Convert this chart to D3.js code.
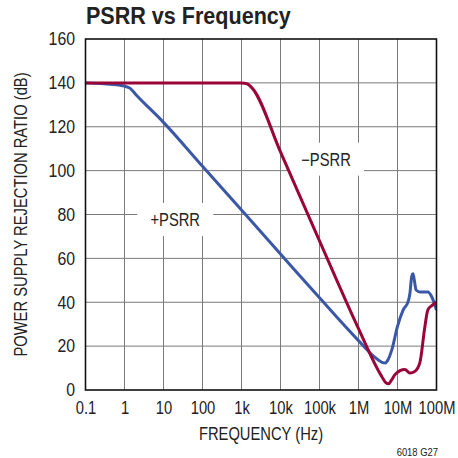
<!DOCTYPE html>
<html>
<head>
<meta charset="utf-8">
<script src="https://cdn.jsdelivr.net/npm/d3@7"></script>
<style>
  html, body { margin: 0; padding: 0; background: #fff; }
  svg { display: block; }
  text { font-family: "Liberation Sans", Arial, sans-serif; fill: #222; }
</style>
</head>
<body>
<script>
// Frequency decades shown on the x axis (Hz) and their labels
const xTickValues = [0.1, 1, 10, 100, 1e3, 1e4, 1e5, 1e6, 1e7, 1e8];
const xTickLabels = ["0.1", "1", "10", "100", "1k", "10k", "100k", "1M", "10M", "100M"];
const yTickValues = [0, 20, 40, 60, 80, 100, 120, 140, 160];

// +PSRR: [frequency Hz, dB]
const psrrPlus = [
  [0.1, 140], [0.3, 139.6], [0.7, 139], [1, 138.5], [1.4, 137.5], [2, 134.5],
  [10, 122], [100, 102], [1000, 82], [10000, 62], [100000, 42], [1e6, 22.5],
  [2.6e6, 15], [4e6, 12.6], [4.8e6, 12.3], [5.6e6, 13.5], [7.2e6, 18.5],
  [10e6, 29], [14e6, 36.5], [18.9e6, 40.5], [20.8e6, 44], [23e6, 51.5],
  [25e6, 53], [27e6, 50], [30e6, 45.6], [37.5e6, 44.7], [60e6, 44.7],
  [76e6, 42.4], [100e6, 36.5]
];

// −PSRR: [frequency Hz, dB]
const psrrMinus = [
  [0.1, 140], [1, 140], [10, 140], [100, 140], [1000, 140], [1400, 139.5],
  [1900, 137.5], [10000, 108.5], [100000, 68], [1e6, 28], [3.7e6, 7],
  [5.0e6, 3.4], [5.9e6, 2.8], [7e6, 4.5], [8.6e6, 7], [11.6e6, 8.8],
  [15.5e6, 9.4], [20.8e6, 7.7], [27.9e6, 8.5], [37.5e6, 12.5],
  [50e6, 28.5], [60e6, 36.5], [76e6, 38.5], [100e6, 40]
];

// Curve labels: [text, frequency Hz, dB]
const curveLabels = [
  ["+PSRR", 20, 77.5],
  ["\u2212PSRR", 147000, 105]
];

// Horizontal squeeze giving a condensed typeface look
const SQ = 0.82;

const W = 458, H = 458;
const margin = { left: 85.5, right: 458 - 436.5, top: 39, bottom: 458 - 390 };

const svg = d3.select("body").append("svg")
  .attr("width", W).attr("height", H);

const x = d3.scaleLog().domain([0.1, 1e8]).range([margin.left, W - margin.right]);
const y = d3.scaleLinear().domain([0, 160]).range([H - margin.bottom, margin.top]);

// Places a condensed text element at (px, py)
function narrowText(parent, px, py, str, size, anchor, sq) {
  return parent.append("text")
    .attr("transform", `translate(${px},${py}) scale(${sq || SQ},1)`)
    .attr("text-anchor", anchor || "middle")
    .attr("font-size", size)
    .text(str);
}

// Grid
const grid = svg.append("g").attr("stroke", "#7a7a7a").attr("stroke-width", 1);
grid.selectAll("line.v").data(xTickValues.slice(1, -1)).join("line")
  .attr("x1", d => x(d)).attr("x2", d => x(d))
  .attr("y1", y(0)).attr("y2", y(160));
grid.selectAll("line.h").data(yTickValues.slice(1, -1)).join("line")
  .attr("x1", x(0.1)).attr("x2", x(1e8))
  .attr("y1", d => y(d)).attr("y2", d => y(d));

// Curve labels with white boxes over the grid
const lab = svg.append("g");
curveLabels.forEach(([t, f, db]) => {
  const cx = x(f), cy = y(db);
  lab.append("rect")
    .attr("x", cx - 38).attr("y", cy - 17).attr("width", 76).attr("height", 33)
    .attr("fill", "#fff");
  narrowText(lab, cx, cy + 6.5, t, 18, "middle");
});

// Curves
svg.append("clipPath").attr("id", "plotclip").append("rect")
  .attr("x", x(0.1)).attr("y", y(160)).attr("width", x(1e8) - x(0.1)).attr("height", y(0) - y(160));

const line = d3.line().x(d => x(d[0])).y(d => y(d[1])).curve(d3.curveMonotoneX);
const curves = svg.append("g").attr("clip-path", "url(#plotclip)");
curves.append("path").datum(psrrPlus)
  .attr("d", line).attr("fill", "none").attr("stroke", "#3b58a8")
  .attr("stroke-width", 3).attr("stroke-linejoin", "round");
curves.append("path").datum(psrrMinus)
  .attr("d", line).attr("fill", "none").attr("stroke", "#9a0538")
  .attr("stroke-width", 3).attr("stroke-linejoin", "round");

// Plot frame
svg.append("rect")
  .attr("x", x(0.1)).attr("y", y(160))
  .attr("width", x(1e8) - x(0.1)).attr("height", y(0) - y(160))
  .attr("fill", "none").attr("stroke", "#111").attr("stroke-width", 1.6);

// Axes (labels only; grid provides the tick lines)
const xAxis = d3.axisBottom(x).tickValues(xTickValues)
  .tickFormat((d, i) => xTickLabels[i]).tickSize(0).tickPadding(11);
svg.append("g").attr("transform", `translate(0,${y(0)})`).call(xAxis)
  .call(g => g.select(".domain").remove())
  .selectAll("text")
  .attr("font-size", 18).attr("font-family", null).attr("fill", "#222")
  .attr("transform", `scale(${SQ},1)`);

const yAxis = d3.axisLeft(y).tickValues(yTickValues).tickSize(0).tickPadding(10.5 / 0.88);
svg.append("g").attr("transform", `translate(${x(0.1)},0)`).call(yAxis)
  .call(g => g.select(".domain").remove())
  .selectAll("text")
  .attr("font-size", 18).attr("font-family", null).attr("fill", "#222")
  .attr("transform", `scale(0.88,1)`);

// Titles
narrowText(svg, 86, 24, "PSRR vs Frequency", 24.5, "start", 0.88)
  .attr("font-weight", "bold").attr("fill", "#111");

narrowText(svg, (x(0.1) + x(1e8)) / 2, 440, "FREQUENCY (Hz)", 18, "middle");

svg.append("text")
  .attr("transform", `translate(27,${(y(0) + y(160)) / 2}) rotate(-90) scale(${SQ},1)`)
  .attr("text-anchor", "middle").attr("font-size", 18)
  .text("POWER SUPPLY REJECTION RATIO (dB)");

narrowText(svg, 438, 456, "6018 G27", 11.5, "end");
</script>
</body>
</html>
